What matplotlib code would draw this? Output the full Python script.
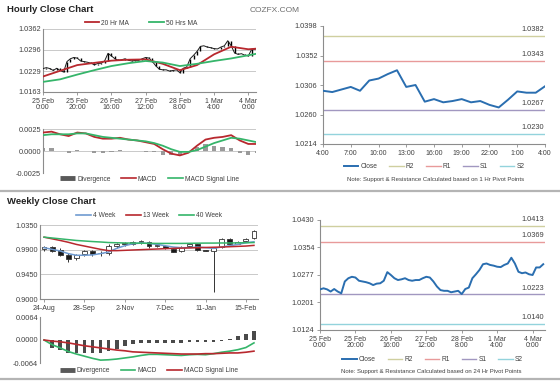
import numpy as np
import matplotlib
matplotlib.use("Agg")
import matplotlib.pyplot as plt
from matplotlib.lines import Line2D

plt.rcParams['font.family'] = ['Liberation Sans', 'DejaVu Sans']

# ---- hourly data (25 Feb 0:00 .. 4 Mar, one value every 2 hours) ----
CLOSE_2H = [1.0237, 1.0240, 1.0237, 1.0231, 1.0238, 1.0231, 1.0226, 1.0259, 1.0268, 1.0272,
            1.0270, 1.0261, 1.0259, 1.0257, 1.0254, 1.0249, 1.0253, 1.0254, 1.0261, 1.0285,
            1.0277, 1.0268, 1.0263, 1.0265, 1.0268, 1.0263, 1.0261, 1.0263, 1.0263, 1.0268,
            1.0272, 1.0270, 1.0259, 1.0245, 1.0235, 1.0233, 1.0233, 1.0229, 1.0231, 1.0233,
            1.0224, 1.0238, 1.0242, 1.0268, 1.0279, 1.0291, 1.0307, 1.0309, 1.0305, 1.0303,
            1.0300, 1.0299, 1.0305, 1.0309, 1.0325, 1.0309, 1.0286, 1.0282, 1.0284, 1.0279,
            1.0277, 1.0298, 1.0298, 1.0307]
HOUR_LABELS = ["25 Feb\n0:00", "25 Feb\n20:00", "26 Feb\n16:00", "27 Feb\n12:00",
               "28 Feb\n8:00", "1 Mar\n4:00", "4 Mar\n0:00"]

MA_HOURS = [0, 10, 20, 30, 40, 50, 60, 70, 80, 90, 100, 110, 120, 125]
MA20 = [1.0212, 1.0230, 1.0248, 1.0255, 1.0262, 1.0265, 1.0266, 1.0252, 1.0232, 1.0248,
        1.0282, 1.0306, 1.0298, 1.0300]
MA50 = [1.0195, 1.0203, 1.0218, 1.0232, 1.0245, 1.0254, 1.0261, 1.0256, 1.0245, 1.0252,
        1.0261, 1.0269, 1.0279, 1.0284]

# hourly MACD, one value every 5 hours
MACD_H = [0.0021, 0.0022, 0.0019, 0.0017, 0.0021, 0.0020, 0.0016, 0.0014, 0.0014, 0.0015,
          0.0013, 0.0012, 0.0010, 0.0008, 0.0002, -0.0003, -0.0005, -0.0002, 0.0006, 0.0013,
          0.0015, 0.0016, 0.0018, 0.0012, 0.0008, 0.0008]
SIGNAL_H = [0.0018, 0.0019, 0.0019, 0.0019, 0.0020, 0.0020, 0.0018, 0.0016, 0.0015, 0.0014,
            0.0013, 0.0012, 0.0011, 0.0009, 0.0006, 0.0002, -0.0001, -0.0001, 0.0001, 0.0005,
            0.0009, 0.0012, 0.0015, 0.0014, 0.0012, 0.0010]

# ---- last 24 hours, 1 Hr pivots ----
CLOSE_24H = [1.0297, 1.0295, 1.0299, 1.0303, 1.0297, 1.0313, 1.0316, 1.0323, 1.0329, 1.0303,
             1.0306, 1.0280, 1.0284, 1.0279, 1.0281, 1.0284, 1.0279, 1.0281, 1.0275, 1.0271,
             1.0283, 1.0296, 1.0294, 1.0294, 1.0304]
LABELS_24H = ["4:00", "7:00", "10:00", "13:00", "16:00", "19:00", "22:00", "1:00", "4:00"]
PIVOT_1H = {"R2": 1.0382, "R1": 1.0343, "S1": 1.0267, "S2": 1.0230}
PIVOT_24H = {"R2": 1.0413, "R1": 1.0369, "S1": 1.0223, "S2": 1.0140}

# ---- weekly data ----
WEEK_LABELS = ["24-Aug", "28-Sep", "2-Nov", "7-Dec", "11-Jan", "15-Feb"]
W_OPEN = [0.9906, 0.9942, 0.9888, 0.9804, 0.9744, 0.9828, 0.9876, 0.9834, 0.9846, 0.9966,
          1.0020, 1.0008, 1.0044, 1.0044, 0.9972, 0.9960, 0.9918, 0.9876, 0.9960, 0.9996,
          0.9894, 0.9876, 0.9948, 1.0086, 1.0008, 1.0056, 1.0104]
W_CLOSE = [0.9942, 0.9876, 0.9804, 0.9726, 0.9804, 0.9876, 0.9828, 0.9846, 0.9966, 0.9996,
           0.9996, 1.0044, 1.0050, 0.9966, 0.9984, 0.9924, 0.9864, 0.9948, 0.9996, 0.9888,
           0.9876, 0.9924, 1.0086, 0.9996, 1.0044, 1.0092, 1.0248]
W_HIGH = [0.9960, 0.9960, 0.9924, 0.9846, 0.9828, 0.9888, 0.9900, 0.9876, 0.9996, 1.0020,
          1.0044, 1.0056, 1.0080, 1.0056, 1.0008, 0.9984, 0.9924, 0.9960, 1.0008, 1.0008,
          0.9900, 0.9936, 1.0116, 1.0116, 1.0056, 1.0104, 1.0266]
W_LOW = [0.9876, 0.9864, 0.9792, 0.9666, 0.9720, 0.9792, 0.9786, 0.9786, 0.9804, 0.9936,
         0.9960, 0.9984, 1.0008, 0.9924, 0.9948, 0.9906, 0.9852, 0.9864, 0.9948, 0.9876,
         0.9870, 0.9130, 0.9936, 0.9966, 0.9996, 1.0044, 1.0086]
MA4W = [0.9936, 0.9906, 0.9876, 0.9828, 0.9798, 0.9798, 0.9804, 0.9828, 0.9858, 0.9924,
        0.9972, 1.0008, 1.0020, 1.0014, 0.9996, 0.9972, 0.9948, 0.9936, 0.9936, 0.9948,
        0.9936, 0.9924, 0.9948, 0.9972, 0.9996, 1.0026, 1.0044]
MA13W = [1.0128, 1.0098, 1.0068, 1.0035, 0.9996, 0.9966, 0.9936, 0.9906, 0.9882, 0.9882,
         0.9888, 0.9894, 0.9900, 0.9906, 0.9912, 0.9918, 0.9924, 0.9928, 0.9932, 0.9936,
         0.9940, 0.9944, 0.9948, 0.9954, 0.9960, 0.9966, 0.9978]
MA40W = [1.0128, 1.0113, 1.0098, 1.0083, 1.0068, 1.0058, 1.0048, 1.0040, 1.0030, 1.0026,
         1.0022, 1.0020, 1.0018, 1.0016, 1.0014, 1.0014, 1.0014, 1.0014, 1.0016, 1.0018,
         1.0020, 1.0020, 1.0022, 1.0022, 1.0024, 1.0026, 1.0030]
MACD_W = [0.0000, -0.0013, -0.0022, -0.0032, -0.0039, -0.0045, -0.0051, -0.0056, -0.0055, -0.0053,
          -0.0050, -0.0047, -0.0043, -0.0040, -0.0040, -0.0041, -0.0042, -0.0043, -0.0041, -0.0040,
          -0.0041, -0.0038, -0.0034, -0.0031, -0.0027, -0.0021, -0.0008]
SIGNAL_W = [0.0000, -0.0003, -0.0005, -0.0008, -0.0012, -0.0016, -0.0019, -0.0022, -0.0025, -0.0028,
            -0.0030, -0.0033, -0.0034, -0.0035, -0.0036, -0.0037, -0.0038, -0.0039, -0.0039, -0.0039,
            -0.0038, -0.0038, -0.0037, -0.0036, -0.0036, -0.0034, -0.0031]
DIV_W = [0.0000, -0.0021, -0.0029, -0.0037, -0.0037, -0.0035, -0.0037, -0.0035, -0.0031, -0.0024,
         -0.0017, -0.0010, -0.0007, -0.0007, -0.0007, -0.0007, -0.0007, -0.0007, -0.0006, -0.0006,
         -0.0006, -0.0006, -0.0003, 0.0003, 0.0011, 0.0016, 0.0025]

RED = "#b8282e"
GREEN = "#35b56a"
BLUE = "#2a6eb0"
STEEL = "#6f9bd1"
AXIS = "#8c8c8c"
GRID = "#c0c0c0"
TEXT = "#404040"
PIV_COLORS = {"R2": "#cfcf9f", "R1": "#e89a9a", "S1": "#a197c0", "S2": "#93d3dc"}

W, H = 560, 386
fig = plt.figure(figsize=(5.6, 3.86), dpi=100)


def px_axes(x0, y0, x1, y1):
    return fig.add_axes([x0 / W, 1 - y1 / H, (x1 - x0) / W, (y1 - y0) / H])


def style(ax, grid=False):
    for s in ['top', 'right']:
        ax.spines[s].set_visible(False)
    for s in ['left', 'bottom']:
        ax.spines[s].set_color(AXIS)
        ax.spines[s].set_linewidth(0.8)
    ax.tick_params(labelsize=5.3, colors=AXIS, labelcolor=TEXT, length=2.5, width=0.6, pad=1.5)
    ax.tick_params(axis='x', labelsize=5)
    if grid:
        ax.yaxis.grid(True, color=GRID, lw=0.6)
        ax.tick_params(axis='y', length=0)
        ax.set_axisbelow(True)


def legend(ax, handles, labels, y, x=0.5, fs=4.8, spacing=1.6):
    ax.legend(handles, labels, loc='center', bbox_to_anchor=(x, y), ncol=len(labels),
              frameon=False, fontsize=fs, handlelength=2.2, handletextpad=0.3,
              columnspacing=spacing, labelcolor=TEXT, borderaxespad=0)


def macd_legend(ax, y, macd_col, sig_col):
    h = [Line2D([], [], color="#595959", lw=3.5, solid_capstyle='butt'),
         Line2D([], [], color=macd_col, lw=1.2),
         Line2D([], [], color=sig_col, lw=1.2)]
    legend(ax, h, ["Divergence", "MACD", "MACD Signal Line"], y)


# ---------- header / separators ----------
fig.text(7 / W, 1 - 10 / H, "Hourly Close Chart", fontsize=6.8, fontweight='bold', va='center', color="#222222")
fig.text(7 / W, 1 - 202 / H, "Weekly Close Chart", fontsize=6.8, fontweight='bold', va='center', color="#222222")
fig.text(250 / W, 1 - 10 / H, "COZFX.COM", fontsize=6, va='center', color="#6e6e6e")
for yy in (191, 379):
    fig.add_artist(Line2D([0, 1], [1 - yy / H] * 2, color="#b4b4b4", lw=1.6))

# ---------- hourly close (top left) ----------
ax = px_axes(43, 29, 256, 92)
style(ax, grid=True)
hx = np.arange(len(CLOSE_2H)) * 2
prev = np.r_[CLOSE_2H[0], CLOSE_2H[:-1]]
ax.vlines(hx, np.minimum(prev, CLOSE_2H), np.maximum(prev, CLOSE_2H), color="black", lw=1.0, zorder=3)
ax.plot(hx, CLOSE_2H, color="#1a1a1a", lw=0.7, zorder=3)
ax.plot(MA_HOURS, MA20, color=RED, lw=1.3, zorder=4)
ax.plot(MA_HOURS, MA50, color=GREEN, lw=1.3, zorder=4)
ax.set_xlim(0, 124.5)
ax.set_ylim(1.0163, 1.0362)
ax.set_yticks([1.0163, 1.0229, 1.0296, 1.0362])
ax.yaxis.set_major_formatter(matplotlib.ticker.FormatStrFormatter('%.4f'))
ax.set_xticks(np.arange(len(HOUR_LABELS)) * 20)
ax.set_xticklabels(HOUR_LABELS, linespacing=0.95)
legend(ax, [Line2D([], [], color=RED, lw=1.3), Line2D([], [], color=GREEN, lw=1.3)],
       ["20 Hr MA", "50 Hrs MA"], 1.09, x=0.46, spacing=3)

# ---------- hourly MACD ----------
ax = px_axes(43, 129, 256, 173)
style(ax, grid=True)
mx = np.arange(len(MACD_H)) * 5
ax.bar(mx, np.array(MACD_H) - np.array(SIGNAL_H), width=2.5, color="#9a9a9a", zorder=2)
ax.plot(mx, MACD_H, color=RED, lw=1.3, zorder=3)
ax.plot(mx, SIGNAL_H, color=GREEN, lw=1.3, zorder=3)
ax.set_xlim(0, 124.5)
ax.set_ylim(-0.0025, 0.0025)
ax.set_yticks([-0.0025, 0.0, 0.0025])
ax.yaxis.set_major_formatter(matplotlib.ticker.FormatStrFormatter('%.4f'))
ax.set_xticks([])
ax.spines['bottom'].set_visible(False)
macd_legend(ax, -0.14, RED, GREEN)


def pivot_panel(ax, x, close, pivots, ylim, yticks):
    style(ax)
    for k in ["R2", "R1", "S1", "S2"]:
        ax.axhline(pivots[k], color=PIV_COLORS[k], lw=1.0, zorder=1)
        ax.annotate(f"{pivots[k]:.4f}", (1.0, pivots[k]), xycoords=('axes fraction', 'data'),
                    xytext=(-1, 2), textcoords='offset points', ha='right', va='bottom',
                    fontsize=5.3, color=TEXT)
    ax.plot(x, close, color=BLUE, lw=1.4, zorder=3)
    ax.set_ylim(*ylim)
    ax.set_yticks(yticks)
    ax.yaxis.set_major_formatter(matplotlib.ticker.FormatStrFormatter('%.4f'))
    h = [Line2D([], [], color=BLUE, lw=1.4)] + [Line2D([], [], color=PIV_COLORS[k], lw=1.0)
                                                for k in ["R2", "R1", "S1", "S2"]]
    return h


# ---------- 24h close with 1 Hr pivots (top right) ----------
ax = px_axes(323, 26, 545, 144)
h = pivot_panel(ax, np.arange(len(CLOSE_24H)), CLOSE_24H, PIVOT_1H, (1.0214, 1.0398),
                [1.0214, 1.0260, 1.0306, 1.0352, 1.0398])
ax.set_xlim(0, 24)
ax.set_xticks(np.arange(len(LABELS_24H)) * 3)
ax.set_xticklabels(LABELS_24H)
legend(ax, h, ["Close", "R2", "R1", "S1", "S2"], -0.19, x=0.5, spacing=1.8)
fig.text(436 / W, 1 - 180 / H, "Note: Support & Resistance Calculated based on 1 Hr Pivot Points",
         fontsize=4.3, ha='center', va='center', color=TEXT)

# ---------- hourly close with 24 Hr pivots (bottom right) ----------
ax = px_axes(320, 220, 545, 330)
h = pivot_panel(ax, hx, CLOSE_2H, PIVOT_24H, (1.0124, 1.0430),
                [1.0124, 1.0201, 1.0277, 1.0354, 1.0430])
ax.set_xlim(0, 127)
ax.set_xticks(np.arange(len(HOUR_LABELS)) * 20)
ax.set_xticklabels(HOUR_LABELS, linespacing=0.95)
legend(ax, h, ["Close", "R2", "R1", "S1", "S2"], -0.27, x=0.5, spacing=1.8)
fig.text(431 / W, 1 - 372 / H, "Note: Support & Resistance Calculated based on 24 Hr Pivot Points",
         fontsize=4.3, ha='center', va='center', color=TEXT)

# ---------- weekly candles (bottom left) ----------
ax = px_axes(40, 225, 258, 299)
style(ax, grid=True)
wx = np.arange(len(W_CLOSE))
wo, wc = np.array(W_OPEN), np.array(W_CLOSE)
ax.vlines(wx, W_LOW, W_HIGH, color="#333333", lw=0.7, zorder=3)
ax.bar(wx, np.abs(wc - wo), bottom=np.minimum(wo, wc), width=0.6,
       color=np.where(wc < wo, "#1a1a1a", "white"), edgecolor="#333333", lw=0.6, zorder=4)
ax.plot(wx, MA4W, color=STEEL, lw=1.1, zorder=5)
ax.plot(wx, MA13W, color=RED, lw=1.1, zorder=5)
ax.plot(wx, MA40W, color=GREEN, lw=1.1, zorder=5)
ax.set_xlim(-0.5, 26.5)
ax.set_ylim(0.9, 1.035)
ax.set_yticks([0.9, 0.945, 0.99, 1.035])
ax.yaxis.set_major_formatter(matplotlib.ticker.FormatStrFormatter('%.4f'))
ax.set_xticks(np.arange(len(WEEK_LABELS)) * 5)
ax.set_xticklabels(WEEK_LABELS)
legend(ax, [Line2D([], [], color=c, lw=1.2) for c in (STEEL, RED, GREEN)],
       ["4 Week", "13 Week", "40 Week"], 1.13, x=0.5, spacing=1.6)

# ---------- weekly MACD ----------
ax = px_axes(40, 317, 258, 363)
style(ax)
ax.tick_params(axis='y', length=0)
ax.bar(wx, DIV_W, width=0.45, color="#4a4a4a", zorder=2)
ax.plot(wx, MACD_W, color=GREEN, lw=1.2, zorder=3)
ax.plot(wx, SIGNAL_W, color=RED, lw=1.2, zorder=3)
ax.set_xlim(-0.5, 26.5)
ax.set_ylim(-0.0064, 0.0064)
ax.set_yticks([-0.0064, 0.0, 0.0064])
ax.yaxis.set_major_formatter(matplotlib.ticker.FormatStrFormatter('%.4f'))
ax.set_xticks([])
ax.spines['bottom'].set_visible(False)
macd_legend(ax, -0.16, GREEN, RED)

fig.savefig("out.png", dpi=100)
